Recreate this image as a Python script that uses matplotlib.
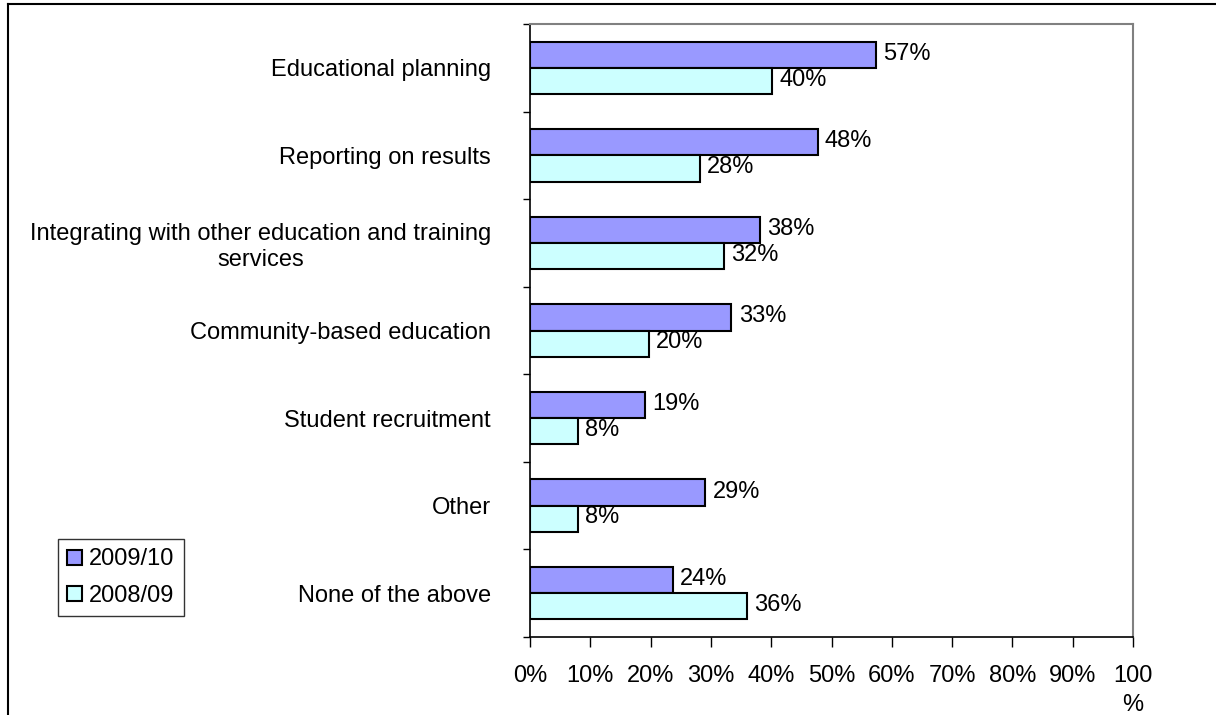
import matplotlib as mpl
mpl.use('Agg')
import matplotlib.pyplot as plt
import numpy as np
from matplotlib.lines import Line2D

plt.rcParams['font.family'] = ['Liberation Sans', 'DejaVu Sans']

categories = ['Educational planning',
              'Reporting on results',
              'Integrating with other education and training\nservices',
              'Community-based education',
              'Student recruitment',
              'Other',
              'None of the above']
val_2009 = [57.4, 47.7, 38.1, 33.4, 19.1, 29.1, 23.7]
val_2008 = [40.1, 28.2, 32.2, 19.7, 7.9, 7.9, 36.0]
xtick_labels = ['0%', '10%', '20%', '30%', '40%', '50%', '60%', '70%', '80%', '90%', '100\n%']

fig = plt.figure(figsize=(12.16, 7.15), dpi=100)
ax = fig.add_axes([530/1216, 1-637/715, 603/1216, 613/715])

y = np.arange(len(categories))
h = 0.3
ax.barh(y - h/2, val_2009, height=h, color='#9999FF', edgecolor='black', linewidth=1.5, label='2009/10')
ax.barh(y + h/2, val_2008, height=h, color='#CCFFFF', edgecolor='black', linewidth=1.5, label='2008/09')

for yy, v in zip(y - h/2, val_2009):
    ax.text(v + 1.2, yy - 0.01, '%d%%' % round(v), va='center', ha='left', fontsize=17)
for yy, v in zip(y + h/2, val_2008):
    ax.text(v + 1.2, yy - 0.015, '%d%%' % round(v), va='center', ha='left', fontsize=17)

ax.set_xlim(0, 100)
ax.set_ylim(len(categories) - 0.5, -0.5)
ax.set_xticks(np.arange(0, 101, 10))
ax.set_xticklabels(xtick_labels, fontsize=17, linespacing=1.45)
ax.set_yticks(y)
ax.set_yticklabels(categories, fontsize=17)
for lab in ax.get_yticklabels():
    lab.set_multialignment('center')
ax.tick_params(axis='y', which='major', length=0, pad=28)
ax.set_yticks(np.arange(-0.5, len(categories)), minor=True)
ax.tick_params(axis='y', which='minor', length=5, width=1, direction='out')
ax.tick_params(axis='x', length=7, width=1, direction='out', pad=13)

for s in ['top', 'right']:
    ax.spines[s].set_color('#808080')
    ax.spines[s].set_linewidth(1.5)
for s in ['left', 'bottom']:
    ax.spines[s].set_color('black')
    ax.spines[s].set_linewidth(1.2)

leg = ax.legend(loc='lower left', bbox_to_anchor=(58/1216, 1-616/715, 128/1216, 80/715),
                bbox_transform=fig.transFigure, fontsize=17, frameon=True, fancybox=False,
                handlelength=0.6, handleheight=0.6, handletextpad=0.3, borderpad=0.4,
                labelspacing=0.6, borderaxespad=0)
leg.get_frame().set_edgecolor('black')
leg.get_frame().set_linewidth(1)

# outer border of the original picture
fig.add_artist(Line2D([8/1216, 1], [1-4/715, 1-4/715], color='black', linewidth=1.5, transform=fig.transFigure))
fig.add_artist(Line2D([8/1216, 8/1216], [0, 1-4/715], color='black', linewidth=1.5, transform=fig.transFigure))

plt.savefig('out.png', dpi=100)
